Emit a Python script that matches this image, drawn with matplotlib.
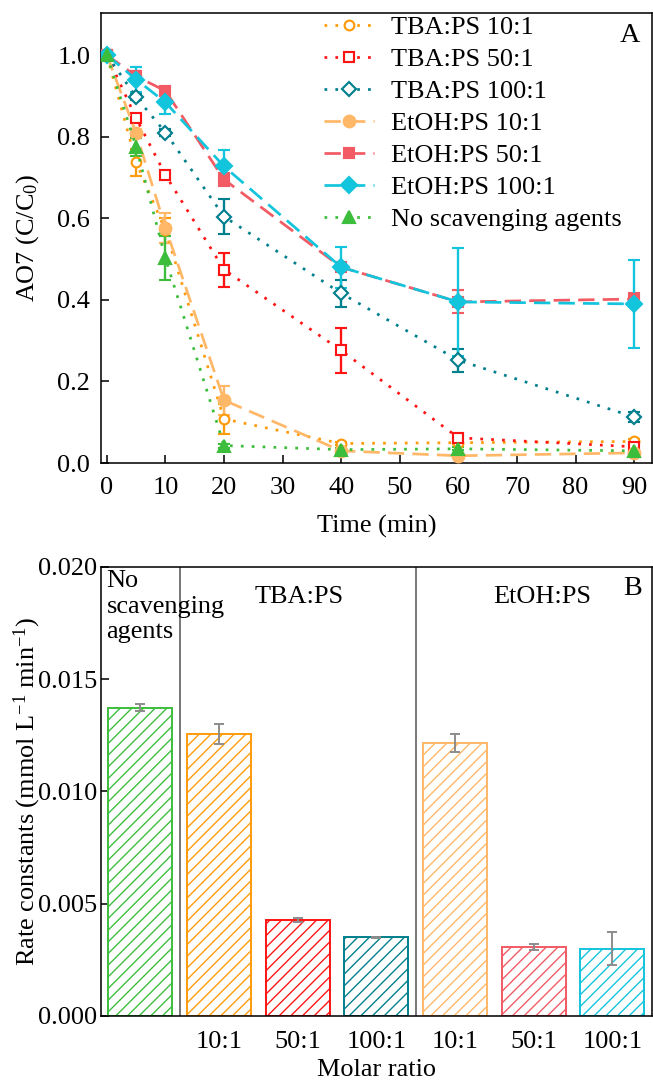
import matplotlib
matplotlib.use("Agg")
import matplotlib.pyplot as plt
from matplotlib.lines import Line2D
import numpy as np

# ---- panel A: AO7 decay with scavengers ----
TIME = [0, 5, 10, 20, 40, 60, 90]

SERIES = [
    "TBA:PS 10:1",
    "TBA:PS 50:1",
    "TBA:PS 100:1",
    "EtOH:PS 10:1",
    "EtOH:PS 50:1",
    "EtOH:PS 100:1",
    "No scavenging agents",
]

TBA_10 = [1.0, 0.737, 0.570, 0.108, 0.048, 0.050, 0.053]
TBA_50 = [1.0, 0.845, 0.706, 0.474, 0.276, 0.062, 0.040]
TBA_100 = [1.0, 0.897, 0.810, 0.604, 0.416, 0.252, 0.113]
ETOH_10 = [1.0, 0.808, 0.577, 0.154, 0.030, 0.018, 0.025]
ETOH_50 = [1.0, 0.948, 0.912, 0.695, 0.480, 0.395, 0.402]
ETOH_100 = [1.0, 0.940, 0.884, 0.727, 0.480, 0.395, 0.390]
NO_SCAV = [1.0, 0.775, 0.502, 0.043, 0.033, 0.035, 0.030]

TBA_10_ERR = [0.0, 0.033, 0.030, 0.036, 0.004, 0.004, 0.005]
TBA_50_ERR = [0.0, 0.010, 0.010, 0.042, 0.054, 0.007, 0.004]
TBA_100_ERR = [0.0, 0.008, 0.008, 0.042, 0.033, 0.028, 0.012]
ETOH_10_ERR = [0.0, 0.010, 0.037, 0.036, 0.004, 0.004, 0.004]
ETOH_50_ERR = [0.0, 0.012, 0.010, 0.015, 0.010, 0.028, 0.016]
ETOH_100_ERR = [0.0, 0.030, 0.028, 0.040, 0.050, 0.132, 0.108]
NO_SCAV_ERR = [0.0, 0.022, 0.054, 0.005, 0.004, 0.004, 0.004]

# ---- panel B: rate constants ----
RATE_LABELS = ["", "10:1", "50:1", "100:1", "10:1", "50:1", "100:1"]
RATE = [0.01373, 0.01257, 0.00427, 0.00350, 0.01214, 0.00306, 0.00300]
RATE_ERR = [0.00015, 0.00045, 0.00010, 0.00003, 0.00040, 0.00013, 0.00075]

C_TBA_10 = "#FF9A0A"
C_TBA_50 = "#FF1414"
C_TBA_100 = "#007F8C"
C_ETOH_10 = "#FFB768"
C_ETOH_50 = "#F25A64"
C_ETOH_100 = "#12C4DC"
C_NONE = "#3CBE3C"

DOT = (0, (1, 3))
DASH = (0, (6, 3))

FS = 13.5

plt.rcParams.update({
    "font.family": ["Liberation Serif", "DejaVu Serif"],
    "font.size": FS,
    "mathtext.fontset": "custom",
    "mathtext.rm": "Liberation Serif",
    "mathtext.it": "Liberation Serif:italic",
    "axes.linewidth": 0.8,
    "hatch.linewidth": 0.7,
    "xtick.direction": "in",
    "ytick.direction": "in",
    "xtick.major.size": 4,
    "ytick.major.size": 4,
    "xtick.major.width": 0.8,
    "ytick.major.width": 0.8,
})

fig = plt.figure(figsize=(653 / 140, 1082 / 140), dpi=140)
ax_a = fig.add_axes([0.1547, 0.572, 0.8433, 0.416])
ax_b = fig.add_axes([0.1547, 0.061, 0.8433, 0.415])

series_data = [
    (TBA_10, TBA_10_ERR, C_TBA_10, DOT, "o", "white", 5),
    (TBA_50, TBA_50_ERR, C_TBA_50, DOT, "s", "white", 5),
    (TBA_100, TBA_100_ERR, C_TBA_100, DOT, "D", "white", 5),
    (ETOH_10, ETOH_10_ERR, C_ETOH_10, DASH, "o", None, 6),
    (ETOH_50, ETOH_50_ERR, C_ETOH_50, DASH, "s", None, 5.5),
    (ETOH_100, ETOH_100_ERR, C_ETOH_100, DASH, "D", None, 6),
    (NO_SCAV, NO_SCAV_ERR, C_NONE, DOT, "^", None, 6.5),
]

handles = []
for name, (vals, errs, color, ls, mk, mfc, ms) in zip(SERIES, series_data):
    style = dict(
        color=color, linestyle=ls, linewidth=1.4,
        marker=mk, markersize=ms, markerfacecolor=mfc if mfc else color,
        markeredgecolor=color, markeredgewidth=1.1,
    )
    ax_a.errorbar(
        TIME, vals, yerr=errs, ecolor=color, elinewidth=1.2,
        capsize=3, capthick=1.2, zorder=3, **style,
    )
    handles.append(Line2D([], [], label=name, **style))

ax_a.set_xlim(-1, 93)
ax_a.set_ylim(0, 1.103)
ax_a.set_xticks(np.arange(0, 91, 10))
ax_a.set_yticks([0.0, 0.2, 0.4, 0.6, 0.8, 1.0])
ax_a.yaxis.set_major_formatter(matplotlib.ticker.FormatStrFormatter("%.1f"))
ax_a.tick_params(axis="x", pad=7)
ax_a.tick_params(axis="y", pad=5.5)
ax_a.set_xlabel("Time (min)")
ax_a.set_ylabel("AO7 (C/C$_0$)")
ax_a.xaxis.set_label_coords(0.5, -0.116)
ax_a.yaxis.set_label_coords(-0.109, 0.5)

ax_a.legend(
    handles=handles,
    loc="upper left", bbox_to_anchor=(0.405, 0.994), frameon=False,
    borderpad=0, borderaxespad=0, labelspacing=0.33,
    handlelength=1.9, handletextpad=0.65, fontsize=FS,
)
ax_a.text(0.96, 0.949, "A", transform=ax_a.transAxes, ha="center",
          va="center", fontsize=FS + 1)

# ---- bar panel ----
bar_colors = [C_NONE, C_TBA_10, C_TBA_50, C_TBA_100, C_ETOH_10, C_ETOH_50,
              C_ETOH_100]
x = np.arange(1, len(RATE) + 1)
for xi, val, col in zip(x, RATE, bar_colors):
    ax_b.bar(xi, val, width=0.81, facecolor="white", edgecolor=col,
             linewidth=1.0, hatch="////", zorder=2)
ax_b.errorbar(x, RATE, yerr=RATE_ERR, fmt="none", ecolor="#8C8C8C",
              elinewidth=1.0, capsize=2.8, capthick=1.0, zorder=3)

for sep in (1.5, 4.5):
    ax_b.axvline(sep, color="#555555", linewidth=0.8, zorder=1)

ax_b.set_xlim(0.5, 7.5)
ax_b.set_ylim(0, 0.020)
ax_b.set_xticks(x)
ax_b.set_xticklabels(RATE_LABELS)
ax_b.set_yticks([0.0, 0.005, 0.010, 0.015, 0.020])
ax_b.yaxis.set_major_formatter(matplotlib.ticker.FormatStrFormatter("%.3f"))
ax_b.tick_params(axis="x", pad=7.5)
ax_b.tick_params(axis="y", pad=2)
ax_b.set_xlabel("Molar ratio")
ax_b.set_ylabel("Rate constants (mmol L$^{-1}$ min$^{-1}$)")
ax_b.xaxis.set_label_coords(0.5, -0.095)
ax_b.yaxis.set_label_coords(-0.105, 0.5)

ax_b.text(0.57, 0.01985, "No\nscavenging\nagents", ha="left", va="top",
          fontsize=FS, linespacing=1.2)
ax_b.text(3.02, 0.0184, "TBA:PS", ha="center", va="baseline", fontsize=FS)
ax_b.text(6.11, 0.0184, "EtOH:PS", ha="center", va="baseline", fontsize=FS)
ax_b.text(0.965, 0.953, "B", transform=ax_b.transAxes, ha="center",
          va="center", fontsize=FS + 1)

fig.savefig("out.png", dpi=140)
